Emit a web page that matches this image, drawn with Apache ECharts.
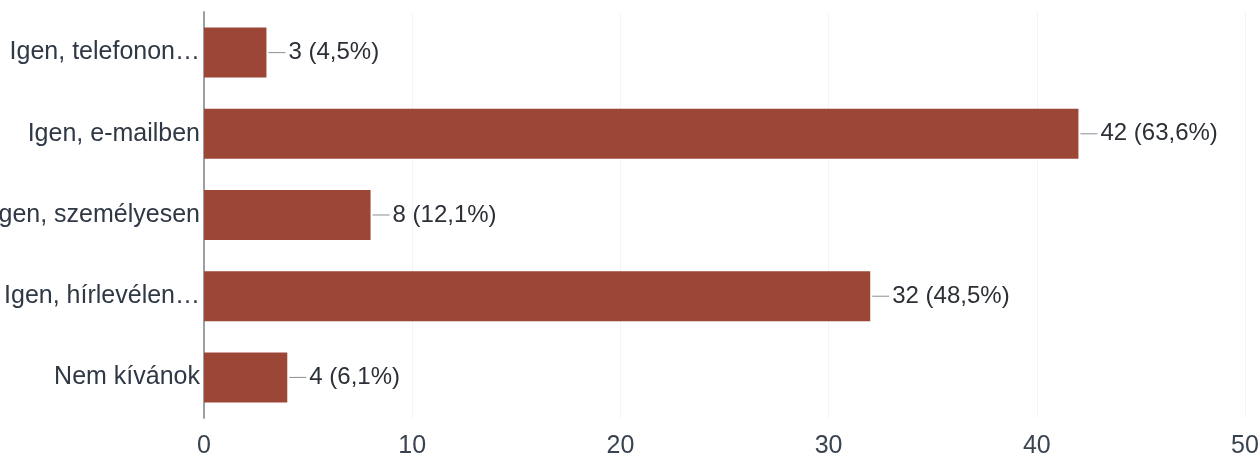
<!DOCTYPE html>
<html>
<head>
<meta charset="utf-8">
<script src="https://cdn.jsdelivr.net/npm/echarts@6/dist/echarts.min.js"></script>
<style>
html,body{margin:0;padding:0;background:#fff;}
#chart{width:1260px;height:456px;}
</style>
</head>
<body>
<div id="chart"></div>
<script>
var categories = ['Igen, telefonon…', 'Igen, e-mailben', 'Igen, személyesen', 'Igen, hírlevélen…', 'Nem kívánok'];
var values = [3, 42, 8, 32, 4];
var respondents = 66;
var xTicks = [0, 10, 20, 30, 40, 50];

function pct(v) {
  return (v / respondents * 100).toFixed(1).replace('.', ',');
}

var chart = echarts.init(document.getElementById('chart'));
chart.setOption({
  animation: false,
  grid: { left: 204, right: 15, top: 12, bottom: 38, containLabel: false, outerBoundsMode: 'none' },
  xAxis: {
    type: 'value',
    min: xTicks[0],
    max: xTicks[xTicks.length - 1],
    interval: 10,
    axisLine: { show: false },
    axisTick: { show: false },
    splitLine: { show: true, lineStyle: { color: '#f4f4f4', width: 1 } },
    axisLabel: {
      margin: 16,
      fontFamily: 'Liberation Sans, Arial, sans-serif',
      fontSize: 25,
      color: '#3a4350'
    }
  },
  yAxis: {
    type: 'category',
    data: categories,
    inverse: true,
    axisLine: { show: true, lineStyle: { color: '#9aa0a6', width: 2 } },
    axisTick: { show: false },
    axisLabel: {
      margin: 4,
      fontFamily: 'Liberation Sans, Arial, sans-serif',
      fontSize: 25,
      color: '#2f3845'
    }
  },
  series: [{
    type: 'bar',
    data: values,
    barWidth: 50,
    itemStyle: { color: '#9c4636' },
    label: {
      show: true,
      position: 'right',
      distance: 2,
      formatter: function (p) { return '{ln|}{t|' + p.value + ' (' + pct(p.value) + '%)}'; },
      rich: {
        ln: { width: 17, height: 1, backgroundColor: '#8a8f96' },
        t: {
          fontFamily: 'Liberation Sans, Arial, sans-serif',
          fontSize: 24,
          color: '#2b2f36',
          padding: [0, 0, 0, 3]
        }
      }
    }
  }]
});
</script>
</body>
</html>
